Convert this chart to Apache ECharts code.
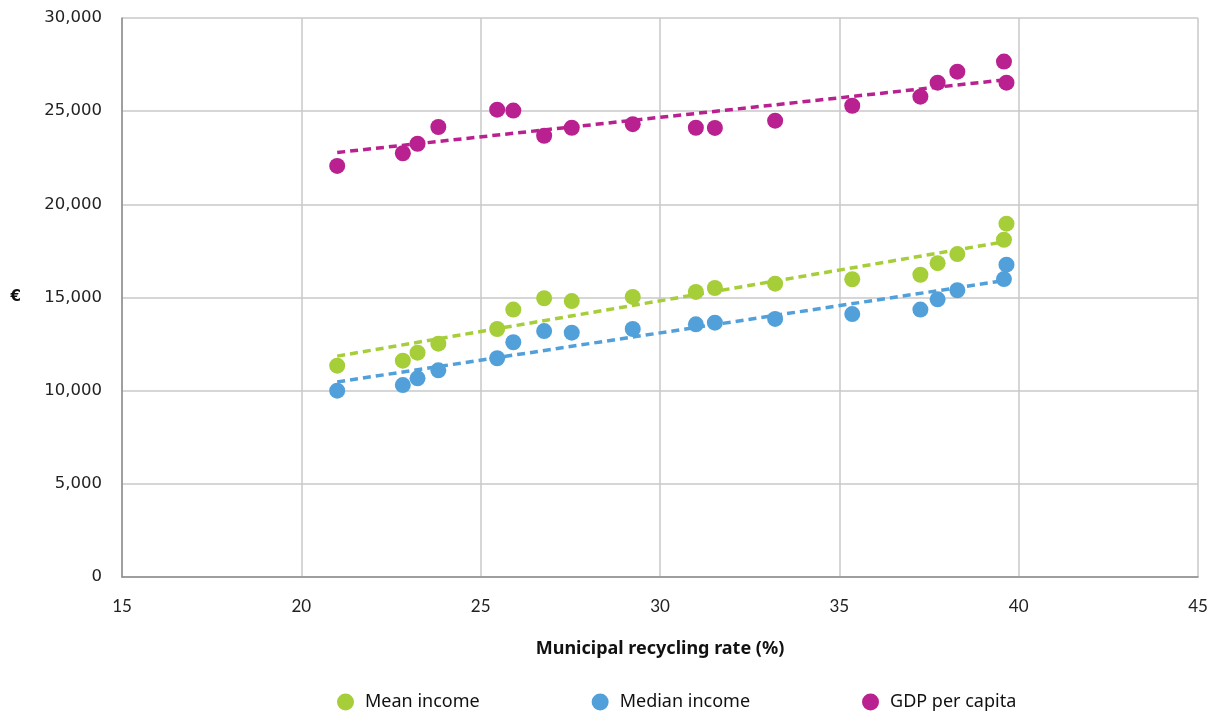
<!DOCTYPE html>
<html>
<head>
<meta charset="utf-8">
<script src="https://cdn.jsdelivr.net/npm/echarts@6/dist/echarts.min.js"></script>
<style>
  html, body { margin: 0; padding: 0; background: #fff; }
  #chart { width: 1218px; height: 713px; }
</style>
</head>
<body>
<div id="chart"></div>
<script>
// Municipal recycling rate (%) per region
const recyclingRate = [21.0, 22.83, 23.24, 23.82, 25.46, 25.91, 26.77, 27.54, 29.24, 31.0,
                       31.53, 33.21, 35.36, 37.26, 37.74, 38.29, 39.59, 39.66];
// Income figures (€) for the same regions
const meanIncome   = [11340, 11610, 12040, 12520, 13310, 14350, 14960, 14810, 15030, 15300,
                      15510, 15740, 15980, 16220, 16840, 17330, 18100, 18960];
const medianIncome = [10000, 10300, 10660, 11090, 11740, 12600, 13200, 13110, 13310, 13560,
                      13650, 13850, 14110, 14350, 14900, 15390, 15990, 16760];
const gdpPerCapita = [22060, 22740, 23250, 24150, 25080, 25030, 23680, 24110, 24300, 24110,
                      24100, 24490, 25290, 25780, 26530, 27120, 27660, 26530];

const xTicks = { min: 15, max: 45, interval: 5 };
const yTicks = { min: 0, max: 30000, interval: 5000 };

const colors = { mean: '#A6CE39', median: '#52A0DA', gdp: '#B8218F' };

// Least-squares linear fit, drawn across the observed x range
function trend(xs, ys) {
  const n = xs.length;
  let sx = 0, sy = 0, sxx = 0, sxy = 0;
  for (let i = 0; i < n; i++) { sx += xs[i]; sy += ys[i]; sxx += xs[i] * xs[i]; sxy += xs[i] * ys[i]; }
  const b = (n * sxy - sx * sy) / (n * sxx - sx * sx);
  const a = (sy - b * sx) / n;
  const x0 = Math.min(...xs), x1 = Math.max(...xs);
  return [[x0, a + b * x0], [x1, a + b * x1]];
}

const pairs = (ys) => recyclingRate.map((x, i) => [x, ys[i]]);

const tickFont = 'Lato';
const textFont = 'Noto Sans';
const chart = echarts.init(document.getElementById('chart'), null, { renderer: 'canvas' });

function scatter(name, ys, color) {
  return {
    name, type: 'scatter', data: pairs(ys), symbol: 'circle', symbolSize: 16,
    itemStyle: { color, opacity: 1 }, z: 3
  };
}
function trendLine(ys, color) {
  return {
    type: 'line', data: trend(recyclingRate, ys), symbol: 'none', silent: true,
    lineStyle: { color, width: 3.5, type: [8, 5] }, z: 2
  };
}

chart.setOption({
  animation: false,
  textStyle: { fontFamily: textFont },
  grid: { left: 122, right: 20, top: 18, bottom: 136, containLabel: false },
  xAxis: {
    type: 'value', min: xTicks.min, max: xTicks.max, interval: xTicks.interval,
    name: 'Municipal recycling rate (%)', nameLocation: 'middle', nameGap: 63,
    nameTextStyle: { fontFamily: textFont, fontSize: 18, fontWeight: 'bold', color: '#111' },
    axisLine: { show: true, lineStyle: { color: '#8c8c8c', width: 1.5 } },
    axisTick: { show: false },
    axisLabel: { fontFamily: tickFont, fontSize: 17, color: '#222', margin: 21 },
    splitLine: { show: true, lineStyle: { color: '#c8c8c8', width: 1.5 } }
  },
  yAxis: {
    type: 'value', min: yTicks.min, max: yTicks.max, interval: yTicks.interval,
    name: '€', nameLocation: 'middle', nameGap: 101, nameRotate: 0,
    nameTextStyle: { fontFamily: 'DejaVu Sans', fontSize: 15, fontWeight: 'bold', color: '#111' },
    axisLine: { show: true, lineStyle: { color: '#8c8c8c', width: 1.5 } },
    axisTick: { show: false },
    axisLabel: {
      fontFamily: 'DejaVu Sans', fontSize: 16.5, color: '#222', margin: 20,
      formatter: (v) => v.toLocaleString('en-US')
    },
    splitLine: { show: true, lineStyle: { color: '#c8c8c8', width: 1.5 } }
  },
  legend: {
    top: 688, left: 332, itemGap: 112, itemWidth: 17, itemHeight: 17,
    icon: 'circle',
    textStyle: { fontFamily: textFont, fontSize: 18, color: '#111', padding: [0, 0, 0, 6] },
    data: ['Mean income', 'Median income', 'GDP per capita']
  },
  series: [
    trendLine(meanIncome, colors.mean),
    trendLine(medianIncome, colors.median),
    trendLine(gdpPerCapita, colors.gdp),
    scatter('Mean income', meanIncome, colors.mean),
    scatter('Median income', medianIncome, colors.median),
    scatter('GDP per capita', gdpPerCapita, colors.gdp)
  ]
});
</script>
</body>
</html>
